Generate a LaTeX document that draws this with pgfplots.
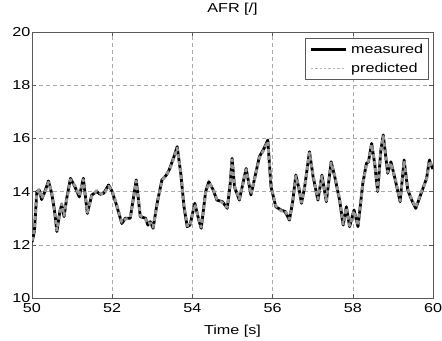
\documentclass[border=0pt]{standalone}
\usepackage{pgfplots}
\pgfplotsset{compat=1.18}
\usepackage{pgfplotstable}
\usepackage{fontspec}
\setmainfont[FakeStretch=1.25]{Liberation Sans}
\definecolor{axgray}{RGB}{90,90,90}
\definecolor{gridgray}{RGB}{170,170,170}
\definecolor{predgray}{RGB}{150,150,150}
\definecolor{legpred}{RGB}{185,185,185}
\pgfplotstableread{
t v
50.00 12.10
50.06 12.50
50.12 14.00
50.18 14.06
50.24 13.70
50.32 14.00
50.41 14.40
50.49 13.94
50.56 13.30
50.62 12.50
50.70 13.30
50.74 13.50
50.80 13.06
50.86 13.70
50.96 14.50
51.07 14.18
51.18 13.80
51.28 14.50
51.38 13.18
51.49 13.87
51.61 14.00
51.70 13.90
51.79 13.94
51.91 14.25
52.00 14.00
52.12 13.43
52.24 12.80
52.33 13.00
52.45 13.00
52.60 14.44
52.70 13.06
52.83 13.00
52.89 12.74
52.95 12.87
53.02 12.62
53.12 13.56
53.24 14.44
53.35 14.62
53.42 14.81
53.54 15.31
53.62 15.69
53.71 14.69
53.79 13.43
53.87 12.68
53.94 12.74
54.06 13.56
54.16 12.93
54.22 12.62
54.33 14.00
54.41 14.37
54.52 14.06
54.61 13.68
54.75 13.62
54.87 13.37
54.94 14.25
54.99 15.25
55.05 14.18
55.17 13.68
55.34 14.87
55.46 13.87
55.59 14.76
55.67 15.31
55.79 15.63
55.88 15.94
55.96 14.18
56.08 13.43
56.21 13.31
56.31 13.25
56.42 12.93
56.50 13.62
56.58 14.62
56.66 14.10
56.72 13.56
56.80 14.18
56.92 15.50
57.01 14.56
57.13 13.68
57.23 14.62
57.34 13.62
57.46 15.12
57.55 14.56
57.67 13.68
57.76 12.74
57.84 13.43
57.92 12.68
58.03 13.31
58.13 12.68
58.25 14.31
58.34 15.06
58.39 15.12
58.47 15.81
58.55 15.00
58.62 14.00
58.70 15.56
58.76 16.13
58.87 14.69
58.95 15.12
59.05 14.50
59.18 13.62
59.28 15.19
59.37 14.06
59.47 13.68
59.57 13.37
59.72 14.00
59.84 14.50
59.91 15.19
59.97 14.94
60.00 14.85
}\measured
\pgfplotstableread{
t v
50.00 12.15
50.06 12.55
50.12 13.95
50.18 14.10
50.24 13.75
50.32 13.95
50.41 14.35
50.49 13.98
50.56 13.25
50.62 12.55
50.70 13.25
50.74 13.55
50.80 13.10
50.86 13.65
50.96 14.45
51.07 14.22
51.18 13.85
51.28 14.45
51.38 13.22
51.49 13.83
51.61 14.04
51.70 13.94
51.79 13.90
51.91 14.20
52.00 14.04
52.12 13.47
52.24 12.85
52.33 12.96
52.45 13.04
52.60 14.40
52.70 13.10
52.83 12.96
52.89 12.78
52.95 12.83
53.02 12.66
53.12 13.52
53.24 14.40
53.35 14.66
53.42 14.77
53.54 15.27
53.62 15.64
53.71 14.73
53.79 13.47
53.87 12.72
53.94 12.70
54.06 13.52
54.16 12.97
54.22 12.66
54.33 13.96
54.41 14.33
54.52 14.10
54.61 13.72
54.75 13.58
54.87 13.41
54.94 14.21
54.99 15.20
55.05 14.22
55.17 13.72
55.34 14.83
55.46 13.91
55.59 14.72
55.67 15.27
55.79 15.59
55.88 15.89
55.96 14.22
56.08 13.47
56.21 13.27
56.31 13.29
56.42 12.97
56.50 13.58
56.58 14.58
56.66 14.14
56.72 13.60
56.80 14.14
56.92 15.45
57.01 14.60
57.13 13.72
57.23 14.58
57.34 13.66
57.46 15.08
57.55 14.60
57.67 13.72
57.76 12.78
57.84 13.39
57.92 12.72
58.03 13.27
58.13 12.72
58.25 14.27
58.34 15.02
58.39 15.16
58.47 15.76
58.55 15.04
58.62 14.04
58.70 15.52
58.76 16.08
58.87 14.73
58.95 15.08
59.05 14.54
59.18 13.66
59.28 15.15
59.37 14.10
59.47 13.72
59.57 13.41
59.72 14.04
59.84 14.46
59.91 15.15
59.97 14.98
60.00 14.88
}\predicted
\begin{document}
\begin{tikzpicture}
\begin{axis}[
  scale only axis,
  width=401bp, height=266bp,
  xmin=50, xmax=60, ymin=10, ymax=20,
  xtick={50,52,...,60}, ytick={10,12,...,20},
  tick align=inside,
  major tick length=4bp,
  axis line style={axgray, line width=0.8pt},
  tick style={axgray, line width=0.6pt},
  xmajorgrids, ymajorgrids,
  grid style={gridgray, dashed, line width=0.6pt, dash pattern=on 4pt off 3pt},
  title={AFR [/]},
  title style={font=\fontsize{13}{15}\selectfont, at={(axis description cs:0.5,1)}, anchor=center, yshift=17bp},
  xlabel={Time [s]},
  xlabel style={font=\fontsize{13}{15}\selectfont, at={(axis description cs:0.5,0)}, anchor=center, yshift=-33bp},
  ticklabel style={font=\fontsize{13}{15}\selectfont},
  yticklabel style={xshift=2bp},
  xticklabel style={anchor=center, yshift=-10bp},
  /pgf/number format/assume math mode=true,
  legend style={at={(axis cs:59.9,19.77)}, anchor=north east, draw=axgray, line width=0.7pt,
    font=\fontsize{13}{15}\selectfont, row sep=5bp, inner xsep=4bp, inner ysep=4bp,
    nodes={inner sep=1.5bp},
    /tikz/every odd column/.append style={column sep=3bp}},
  legend cell align=left,
  legend image code/.code={\draw[#1] (0bp,0bp) -- (35bp,0bp);},
]
\addplot[black, line width=2.8pt, line join=round, forget plot] table[x=t,y=v] {\measured};
\addplot[predgray, line width=2.8pt, line join=round, dash pattern=on 4pt off 3pt, forget plot] table[x=t,y=v] {\predicted};
\addlegendimage{black, line width=2.2pt}
\addlegendentry{measured}
\addlegendimage{legpred, line width=0.6pt, dash pattern=on 2.5pt off 2pt}
\addlegendentry{predicted}
\end{axis}
\pgfresetboundingbox
\path[use as bounding box] ([xshift=-32bp,yshift=-43bp]current axis.south west) rectangle ([xshift=9bp,yshift=32bp]current axis.north east);
\end{tikzpicture}
\end{document}
